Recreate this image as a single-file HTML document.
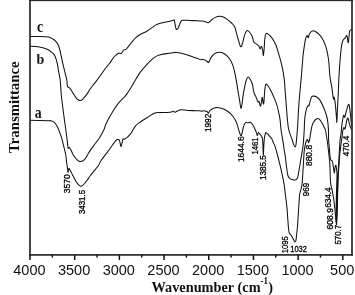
<!DOCTYPE html>
<html><head><meta charset="utf-8"><style>
html,body{margin:0;padding:0;background:#fff;}
body{width:355px;height:295px;overflow:hidden;}
svg{display:block;will-change:transform;}
</style></head><body>
<svg width="355" height="295" viewBox="0 0 355 295">
<rect x="0" y="0" width="355" height="295" fill="#fff"/>
<g fill="none" stroke="#111" stroke-width="1.05" stroke-linejoin="round">
<path d="M30.00,36.50 C31.67,36.52 36.95,36.50 40.00,36.60 C43.05,36.70 46.47,36.88 48.30,37.10 C50.13,37.32 50.15,37.55 51.00,37.90 C51.85,38.25 52.65,38.67 53.40,39.20 C54.15,39.73 54.83,40.40 55.50,41.10 C56.17,41.80 56.85,42.50 57.40,43.40 C57.95,44.30 58.37,45.32 58.80,46.50 C59.23,47.68 59.60,48.90 60.00,50.50 C60.40,52.10 60.67,53.65 61.20,56.10 C61.73,58.55 62.53,62.32 63.20,65.20 C63.87,68.08 64.60,70.93 65.20,73.40 C65.80,75.87 66.47,78.15 66.80,80.00 C67.13,81.85 67.05,83.37 67.20,84.50 C67.35,85.63 67.47,86.32 67.70,86.80 C67.93,87.28 68.30,87.22 68.60,87.40 C68.90,87.58 69.13,87.55 69.50,87.90 C69.87,88.25 70.13,88.50 70.80,89.50 C71.47,90.50 72.62,92.50 73.50,93.90 C74.38,95.30 75.35,96.93 76.10,97.90 C76.85,98.87 77.40,99.28 78.00,99.70 C78.60,100.12 79.20,100.30 79.70,100.40 C80.20,100.50 80.57,100.43 81.00,100.30 C81.43,100.17 81.50,100.37 82.30,99.60 C83.10,98.83 84.85,96.88 85.80,95.70 C86.75,94.52 87.30,93.58 88.00,92.50 C88.70,91.42 89.17,90.42 90.00,89.20 C90.83,87.98 91.98,86.50 93.00,85.20 C94.02,83.90 94.90,82.97 96.10,81.40 C97.30,79.83 98.98,77.50 100.20,75.80 C101.42,74.10 102.35,72.67 103.40,71.20 C104.45,69.73 105.47,68.32 106.50,67.00 C107.53,65.68 108.78,64.37 109.60,63.30 C110.42,62.23 110.75,61.55 111.40,60.60 C112.05,59.65 112.78,58.47 113.50,57.60 C114.22,56.73 114.87,56.12 115.70,55.40 C116.53,54.68 117.78,53.67 118.50,53.30 C119.22,52.93 119.53,53.15 120.00,53.20 C120.47,53.25 120.70,54.10 121.30,53.60 C121.90,53.10 122.82,50.92 123.60,50.20 C124.38,49.48 125.18,49.95 126.00,49.30 C126.82,48.65 127.58,47.42 128.50,46.30 C129.42,45.18 130.32,44.00 131.50,42.60 C132.68,41.20 134.07,39.30 135.60,37.90 C137.13,36.50 138.83,35.32 140.70,34.20 C142.57,33.08 144.77,32.38 146.80,31.20 C148.83,30.02 151.53,28.07 152.90,27.10 C154.27,26.13 153.63,26.08 155.00,25.40 C156.37,24.72 159.07,23.60 161.10,23.00 C163.13,22.40 165.17,22.25 167.20,21.80 C169.23,21.35 172.12,20.55 173.30,20.30 C174.48,20.05 173.97,19.45 174.30,20.30 C174.63,21.15 174.95,23.87 175.30,25.40 C175.65,26.93 175.88,29.15 176.40,29.50 C176.92,29.85 177.73,28.68 178.40,27.50 C179.07,26.32 179.72,23.60 180.40,22.40 C181.08,21.20 180.97,20.62 182.50,20.30 C184.03,19.98 187.07,20.42 189.60,20.50 C192.13,20.58 195.97,20.72 197.70,20.80 C199.43,20.88 198.93,20.92 200.00,21.00 C201.07,21.08 202.72,21.02 204.10,21.30 C205.48,21.58 207.10,22.90 208.30,22.70 C209.50,22.50 210.13,20.98 211.30,20.10 C212.47,19.22 213.97,18.03 215.30,17.40 C216.63,16.77 217.95,16.37 219.30,16.30 C220.65,16.23 222.03,16.43 223.40,17.00 C224.77,17.57 226.15,18.70 227.50,19.70 C228.85,20.70 230.32,21.88 231.50,23.00 C232.68,24.12 233.75,24.63 234.60,26.40 C235.45,28.17 235.93,31.22 236.60,33.60 C237.27,35.98 237.92,38.50 238.60,40.70 C239.28,42.90 240.02,46.47 240.70,46.80 C241.38,47.13 242.03,44.73 242.70,42.70 C243.37,40.67 243.95,36.63 244.70,34.60 C245.45,32.57 246.35,30.85 247.20,30.50 C248.05,30.15 249.00,31.58 249.80,32.50 C250.60,33.42 251.42,34.67 252.00,36.00 C252.58,37.33 252.95,39.42 253.30,40.50 C253.65,41.58 253.57,41.90 254.10,42.50 C254.63,43.10 255.70,43.48 256.50,44.10 C257.30,44.72 258.28,45.38 258.90,46.20 C259.52,47.02 259.78,49.00 260.20,49.00 C260.62,49.00 261.00,46.07 261.40,46.20 C261.80,46.33 262.27,48.25 262.60,49.80 C262.93,51.35 263.13,55.77 263.40,55.50 C263.67,55.23 264.00,50.63 264.20,48.20 C264.40,45.77 264.42,43.05 264.60,40.90 C264.78,38.75 264.98,36.57 265.30,35.30 C265.62,34.03 265.95,33.45 266.50,33.30 C267.05,33.15 267.80,33.77 268.60,34.40 C269.40,35.03 270.40,35.97 271.30,37.10 C272.20,38.23 273.22,39.83 274.00,41.20 C274.78,42.57 275.43,43.95 276.00,45.30 C276.57,46.65 277.05,48.22 277.40,49.30 C277.75,50.38 277.65,50.25 278.10,51.80 C278.55,53.35 279.48,56.35 280.10,58.60 C280.72,60.85 281.28,63.05 281.80,65.30 C282.32,67.55 282.80,69.83 283.20,72.10 C283.60,74.37 283.93,76.75 284.20,78.90 C284.47,81.05 284.65,83.02 284.80,85.00 C284.95,86.98 284.92,88.25 285.10,90.80 C285.28,93.35 285.65,97.13 285.90,100.30 C286.15,103.47 286.33,106.38 286.60,109.80 C286.87,113.22 287.17,117.60 287.50,120.80 C287.83,124.00 288.15,126.73 288.60,129.00 C289.05,131.27 289.63,132.70 290.20,134.40 C290.77,136.10 291.42,137.50 292.00,139.20 C292.58,140.90 293.18,143.32 293.70,144.60 C294.22,145.88 294.72,146.90 295.10,146.90 C295.48,146.90 295.68,146.68 296.00,144.60 C296.32,142.52 296.70,137.90 297.00,134.40 C297.30,130.90 297.57,127.33 297.80,123.60 C298.03,119.87 298.17,115.93 298.40,112.00 C298.63,108.07 298.92,103.67 299.20,100.00 C299.48,96.33 299.78,93.43 300.10,90.00 C300.42,86.57 300.77,83.20 301.10,79.40 C301.43,75.60 301.83,70.43 302.10,67.20 C302.37,63.97 302.53,62.03 302.70,60.00 C302.87,57.97 302.85,57.20 303.10,55.00 C303.35,52.80 303.78,49.53 304.20,46.80 C304.62,44.07 305.10,40.47 305.60,38.60 C306.10,36.73 306.77,35.77 307.20,35.60 C307.63,35.43 307.80,37.93 308.20,37.60 C308.60,37.27 308.92,34.72 309.60,33.60 C310.28,32.48 311.35,31.25 312.30,30.90 C313.25,30.55 314.12,30.88 315.30,31.50 C316.48,32.12 318.03,33.07 319.40,34.60 C320.77,36.13 322.32,38.33 323.50,40.70 C324.68,43.07 325.65,45.58 326.50,48.80 C327.35,52.02 328.03,55.42 328.60,60.00 C329.17,64.58 329.37,71.78 329.90,76.30 C330.43,80.82 331.32,83.98 331.80,87.10 C332.28,90.22 332.52,93.00 332.80,95.00 C333.08,97.00 333.28,98.77 333.50,99.10 C333.72,99.43 333.88,96.78 334.10,97.00 C334.32,97.22 334.57,98.93 334.80,100.40 C335.03,101.87 335.20,102.63 335.50,105.80 C335.80,108.97 336.38,116.68 336.60,119.40 C336.82,122.12 336.70,122.78 336.80,122.10 C336.90,121.42 337.03,118.68 337.20,115.30 C337.37,111.92 337.63,105.18 337.80,101.80 C337.97,98.42 338.00,99.30 338.20,95.00 C338.40,90.70 338.68,81.83 339.00,76.00 C339.32,70.17 339.70,64.87 340.10,60.00 C340.50,55.13 340.95,50.02 341.40,46.80 C341.85,43.58 342.13,42.23 342.80,40.70 C343.47,39.17 344.72,38.45 345.40,37.60 C346.08,36.75 346.42,34.75 346.90,35.60 C347.38,36.45 347.87,43.38 348.30,42.70 C348.73,42.02 349.07,33.60 349.50,31.50 C349.93,29.40 350.48,30.52 350.90,30.10 C351.32,29.68 351.82,29.18 352.00,29.00"/>
<path d="M30.00,46.20 C31.00,46.25 34.30,46.33 36.00,46.50 C37.70,46.67 38.78,46.92 40.20,47.20 C41.62,47.48 43.15,47.77 44.50,48.20 C45.85,48.63 47.30,49.28 48.30,49.80 C49.30,50.32 49.80,50.80 50.50,51.30 C51.20,51.80 51.90,52.25 52.50,52.80 C53.10,53.35 53.50,53.55 54.10,54.60 C54.70,55.65 55.52,57.33 56.10,59.10 C56.68,60.87 57.18,63.17 57.60,65.20 C58.02,67.23 58.28,69.50 58.60,71.30 C58.92,73.10 59.23,74.55 59.50,76.00 C59.77,77.45 59.90,76.83 60.20,80.00 C60.50,83.17 60.92,90.83 61.30,95.00 C61.68,99.17 62.07,101.50 62.50,105.00 C62.93,108.50 63.43,112.50 63.90,116.00 C64.37,119.50 64.88,123.00 65.30,126.00 C65.72,129.00 66.13,132.00 66.40,134.00 C66.67,136.00 66.72,136.52 66.90,138.00 C67.08,139.48 67.30,141.22 67.50,142.90 C67.70,144.58 67.80,147.33 68.10,148.10 C68.40,148.87 68.80,147.15 69.30,147.50 C69.80,147.85 70.43,148.95 71.10,150.20 C71.77,151.45 72.25,153.35 73.30,155.00 C74.35,156.65 76.22,159.00 77.40,160.10 C78.58,161.20 79.22,161.68 80.40,161.60 C81.58,161.52 82.97,161.30 84.50,159.60 C86.03,157.90 87.90,153.95 89.60,151.40 C91.30,148.85 93.07,146.53 94.70,144.30 C96.33,142.07 97.85,140.47 99.40,138.00 C100.95,135.53 102.88,131.88 104.00,129.50 C105.12,127.12 104.73,126.53 106.10,123.70 C107.47,120.87 110.17,115.88 112.20,112.50 C114.23,109.12 116.27,105.98 118.30,103.40 C120.33,100.82 122.87,98.73 124.40,97.00 C125.93,95.27 126.32,94.70 127.50,93.00 C128.68,91.30 130.32,88.75 131.50,86.80 C132.68,84.85 133.07,83.83 134.60,81.30 C136.13,78.77 138.67,74.38 140.70,71.60 C142.73,68.82 144.77,66.75 146.80,64.60 C148.83,62.45 151.20,60.15 152.90,58.70 C154.60,57.25 155.63,56.58 157.00,55.90 C158.37,55.22 159.40,55.00 161.10,54.60 C162.80,54.20 165.50,53.78 167.20,53.50 C168.90,53.22 169.77,53.08 171.30,52.90 C172.83,52.72 174.72,52.35 176.40,52.40 C178.08,52.45 179.55,52.77 181.40,53.20 C183.25,53.63 185.47,54.33 187.50,55.00 C189.53,55.67 191.90,56.62 193.60,57.20 C195.30,57.78 196.50,58.07 197.70,58.50 C198.90,58.93 199.95,59.67 200.80,59.80 C201.65,59.93 202.13,59.25 202.80,59.30 C203.47,59.35 204.12,59.78 204.80,60.10 C205.48,60.42 206.28,60.80 206.90,61.20 C207.52,61.60 207.95,62.82 208.50,62.50 C209.05,62.18 209.58,60.40 210.20,59.30 C210.82,58.20 211.35,56.92 212.20,55.90 C213.05,54.88 214.12,53.82 215.30,53.20 C216.48,52.58 217.95,52.20 219.30,52.20 C220.65,52.20 222.03,52.52 223.40,53.20 C224.77,53.88 226.32,55.12 227.50,56.30 C228.68,57.48 229.55,58.62 230.50,60.30 C231.45,61.98 232.42,64.02 233.20,66.40 C233.98,68.78 234.57,71.55 235.20,74.60 C235.83,77.65 236.43,81.32 237.00,84.70 C237.57,88.08 238.17,92.32 238.60,94.90 C239.03,97.48 239.22,97.97 239.60,100.20 C239.98,102.43 240.45,107.97 240.90,108.30 C241.35,108.63 241.90,104.57 242.30,102.20 C242.70,99.83 242.90,96.67 243.30,94.10 C243.70,91.53 244.18,89.20 244.70,86.80 C245.22,84.40 245.78,81.33 246.40,79.70 C247.02,78.07 247.73,77.00 248.40,77.00 C249.07,77.00 249.73,78.53 250.40,79.70 C251.07,80.87 251.92,82.33 252.40,84.00 C252.88,85.67 252.98,88.12 253.30,89.70 C253.62,91.28 253.90,92.40 254.30,93.50 C254.70,94.60 255.23,95.20 255.70,96.30 C256.17,97.40 256.70,99.15 257.10,100.10 C257.50,101.05 257.78,101.77 258.10,102.00 C258.42,102.23 258.62,100.78 259.00,101.50 C259.38,102.22 260.00,106.22 260.40,106.30 C260.80,106.38 261.08,103.50 261.40,102.00 C261.72,100.50 261.98,96.98 262.30,97.30 C262.62,97.62 263.02,103.27 263.30,103.90 C263.58,104.53 263.77,103.32 264.00,101.10 C264.23,98.88 264.43,93.30 264.70,90.60 C264.97,87.90 265.28,85.98 265.60,84.90 C265.92,83.82 266.10,83.78 266.60,84.10 C267.10,84.42 267.82,85.57 268.60,86.80 C269.38,88.03 270.40,89.70 271.30,91.50 C272.20,93.30 273.10,95.45 274.00,97.60 C274.90,99.75 275.92,101.92 276.70,104.40 C277.48,106.88 278.13,109.90 278.70,112.50 C279.27,115.10 279.70,117.03 280.10,120.00 C280.50,122.97 280.63,126.77 281.10,130.30 C281.57,133.83 282.38,137.92 282.90,141.20 C283.42,144.48 283.82,147.57 284.20,150.00 C284.58,152.43 284.82,153.02 285.20,155.80 C285.58,158.58 286.05,163.42 286.50,166.70 C286.95,169.98 287.33,173.52 287.90,175.50 C288.47,177.48 289.12,177.92 289.90,178.60 C290.68,179.28 291.70,179.37 292.60,179.60 C293.50,179.83 294.50,180.23 295.30,180.00 C296.10,179.77 296.83,179.52 297.40,178.20 C297.97,176.88 298.25,174.47 298.70,172.10 C299.15,169.73 299.65,166.72 300.10,164.00 C300.55,161.28 300.95,158.52 301.40,155.80 C301.85,153.08 302.45,150.13 302.80,147.70 C303.15,145.27 303.27,144.10 303.50,141.20 C303.73,138.30 303.98,134.17 304.20,130.30 C304.42,126.43 304.42,121.57 304.80,118.00 C305.18,114.43 305.93,110.98 306.50,108.90 C307.07,106.82 307.78,106.02 308.20,105.50 C308.62,104.98 308.72,106.37 309.00,105.80 C309.28,105.23 309.47,103.57 309.90,102.10 C310.33,100.63 310.98,98.00 311.60,97.00 C312.22,96.00 312.75,96.10 313.60,96.10 C314.45,96.10 315.62,96.28 316.70,97.00 C317.78,97.72 318.97,98.70 320.10,100.40 C321.23,102.10 322.52,104.93 323.50,107.20 C324.48,109.47 325.35,111.97 326.00,114.00 C326.65,116.03 327.00,116.92 327.40,119.40 C327.80,121.88 328.20,125.47 328.40,128.90 C328.60,132.33 328.45,136.88 328.60,140.00 C328.75,143.12 329.05,144.80 329.30,147.60 C329.55,150.40 329.83,154.75 330.10,156.80 C330.37,158.85 330.52,159.13 330.90,159.90 C331.28,160.67 332.02,160.38 332.40,161.40 C332.78,162.42 332.95,164.47 333.20,166.00 C333.45,167.53 333.70,169.47 333.90,170.60 C334.10,171.73 334.22,173.32 334.40,172.80 C334.58,172.28 334.75,168.77 335.00,167.50 C335.25,166.23 335.65,164.95 335.90,165.20 C336.15,165.45 336.32,167.53 336.50,169.00 C336.68,170.47 336.97,171.33 337.00,174.00 C337.03,176.67 336.82,180.67 336.70,185.00 C336.58,189.33 336.40,195.00 336.30,200.00 C336.20,205.00 336.10,211.33 336.10,215.00 C336.10,218.67 336.18,222.83 336.30,222.00 C336.42,221.17 336.62,214.50 336.80,210.00 C336.98,205.50 337.23,199.17 337.40,195.00 C337.57,190.83 337.68,188.32 337.80,185.00 C337.92,181.68 337.98,178.27 338.10,175.10 C338.22,171.93 338.35,169.05 338.50,166.00 C338.65,162.95 338.82,159.87 339.00,156.80 C339.18,153.73 339.43,150.40 339.60,147.60 C339.77,144.80 339.78,142.10 340.00,140.00 C340.22,137.90 340.63,137.08 340.90,135.00 C341.17,132.92 341.33,129.88 341.60,127.50 C341.87,125.12 342.17,122.73 342.50,120.70 C342.83,118.67 343.23,115.85 343.60,115.30 C343.97,114.75 344.37,117.62 344.70,117.40 C345.03,117.18 345.22,115.47 345.60,114.00 C345.98,112.53 346.53,110.18 347.00,108.60 C347.47,107.02 348.02,104.97 348.40,104.50 C348.78,104.03 349.02,104.67 349.30,105.80 C349.58,106.93 349.82,108.93 350.10,111.30 C350.38,113.67 350.72,117.55 351.00,120.00 C351.28,122.45 351.67,125.00 351.80,126.00"/>
<path d="M30.00,120.30 C33.00,120.37 44.50,120.63 48.00,120.70 C51.50,120.77 49.98,120.47 51.00,120.70 C52.02,120.93 53.08,121.18 54.10,122.10 C55.12,123.02 56.25,124.72 57.10,126.20 C57.95,127.68 58.58,129.45 59.20,131.00 C59.82,132.55 60.33,134.13 60.80,135.50 C61.27,136.87 61.60,137.77 62.00,139.20 C62.40,140.63 62.80,142.47 63.20,144.10 C63.60,145.73 63.98,147.27 64.40,149.00 C64.82,150.73 65.40,152.92 65.70,154.50 C66.00,156.08 66.03,157.08 66.20,158.50 C66.37,159.92 66.50,161.52 66.70,163.00 C66.90,164.48 67.18,165.85 67.40,167.40 C67.62,168.95 67.82,171.87 68.00,172.30 C68.18,172.73 68.32,170.63 68.50,170.00 C68.68,169.37 68.73,168.30 69.10,168.50 C69.47,168.70 70.17,170.20 70.70,171.20 C71.23,172.20 71.80,173.50 72.30,174.50 C72.80,175.50 72.93,175.82 73.70,177.20 C74.47,178.58 75.93,181.38 76.90,182.80 C77.87,184.22 78.78,185.13 79.50,185.70 C80.22,186.27 80.50,186.40 81.20,186.20 C81.90,186.00 82.72,185.48 83.70,184.50 C84.68,183.52 85.95,181.85 87.10,180.30 C88.25,178.75 89.33,176.90 90.60,175.20 C91.87,173.50 93.35,171.80 94.70,170.10 C96.05,168.40 97.63,166.60 98.70,165.00 C99.77,163.40 99.68,162.60 101.10,160.50 C102.52,158.40 105.33,154.93 107.20,152.40 C109.07,149.87 110.95,147.17 112.30,145.30 C113.65,143.43 114.45,142.15 115.30,141.20 C116.15,140.25 116.72,139.77 117.40,139.60 C118.08,139.43 118.83,139.08 119.40,140.20 C119.97,141.32 120.40,145.63 120.80,146.30 C121.20,146.97 121.45,145.38 121.80,144.20 C122.15,143.02 122.45,140.03 122.90,139.20 C123.35,138.37 123.73,139.55 124.50,139.20 C125.27,138.85 126.50,137.98 127.50,137.10 C128.50,136.22 129.15,135.78 130.50,133.90 C131.85,132.02 133.90,127.83 135.60,125.80 C137.30,123.77 138.50,123.23 140.70,121.70 C142.90,120.17 146.43,118.07 148.80,116.60 C151.17,115.13 152.85,113.57 154.90,112.90 C156.95,112.23 159.05,112.68 161.10,112.60 C163.15,112.52 165.47,112.50 167.20,112.40 C168.93,112.30 170.45,112.18 171.50,112.00 C172.55,111.82 172.87,111.25 173.50,111.30 C174.13,111.35 174.65,112.37 175.30,112.30 C175.95,112.23 176.38,111.33 177.40,110.90 C178.42,110.47 179.72,109.78 181.40,109.70 C183.08,109.62 185.12,110.23 187.50,110.40 C189.88,110.57 193.70,110.63 195.70,110.70 C197.70,110.77 198.53,110.70 199.50,110.80 C200.47,110.90 200.78,111.30 201.50,111.30 C202.22,111.30 203.03,110.80 203.80,110.80 C204.57,110.80 205.48,111.10 206.10,111.30 C206.72,111.50 207.12,111.67 207.50,112.00 C207.88,112.33 208.07,113.42 208.40,113.30 C208.73,113.18 209.10,111.88 209.50,111.30 C209.90,110.72 210.12,110.30 210.80,109.80 C211.48,109.30 212.58,108.68 213.60,108.30 C214.62,107.92 215.78,107.57 216.90,107.50 C218.02,107.43 219.17,107.63 220.30,107.90 C221.43,108.17 222.57,108.58 223.70,109.10 C224.83,109.62 225.97,110.23 227.10,111.00 C228.23,111.77 229.48,112.75 230.50,113.70 C231.52,114.65 232.40,115.63 233.20,116.70 C234.00,117.77 234.62,118.75 235.30,120.10 C235.98,121.45 236.75,123.22 237.30,124.80 C237.85,126.38 238.10,127.97 238.60,129.60 C239.10,131.23 239.88,133.57 240.30,134.60 C240.72,135.63 240.82,135.98 241.10,135.80 C241.38,135.62 241.63,134.88 242.00,133.50 C242.37,132.12 242.88,129.08 243.30,127.50 C243.72,125.92 244.03,124.85 244.50,124.00 C244.97,123.15 245.52,122.58 246.10,122.40 C246.68,122.22 247.35,122.92 248.00,122.90 C248.65,122.88 249.45,122.32 250.00,122.30 C250.55,122.28 250.82,122.33 251.30,122.80 C251.78,123.27 252.40,124.27 252.90,125.10 C253.40,125.93 253.83,126.85 254.30,127.80 C254.77,128.75 255.30,129.83 255.70,130.80 C256.10,131.77 256.42,132.82 256.70,133.60 C256.98,134.38 257.12,135.68 257.40,135.50 C257.68,135.32 257.93,132.63 258.40,132.50 C258.87,132.37 259.65,134.05 260.20,134.70 C260.75,135.35 261.32,135.68 261.70,136.40 C262.08,137.12 262.30,137.57 262.50,139.00 C262.70,140.43 262.77,142.33 262.90,145.00 C263.03,147.67 263.17,154.50 263.30,155.00 C263.43,155.50 263.53,150.67 263.70,148.00 C263.87,145.33 264.05,141.32 264.30,139.00 C264.55,136.68 264.95,135.17 265.20,134.10 C265.45,133.03 265.53,132.72 265.80,132.60 C266.07,132.48 266.38,133.07 266.80,133.40 C267.22,133.73 267.77,134.05 268.30,134.60 C268.83,135.15 269.42,136.00 270.00,136.70 C270.58,137.40 271.33,138.03 271.80,138.80 C272.27,139.57 272.27,140.03 272.80,141.30 C273.33,142.57 274.18,143.98 275.00,146.40 C275.82,148.82 276.80,152.42 277.70,155.80 C278.60,159.18 279.60,163.30 280.40,166.70 C281.20,170.10 281.87,173.15 282.50,176.20 C283.13,179.25 283.73,182.03 284.20,185.00 C284.67,187.97 284.85,190.32 285.30,194.00 C285.75,197.68 286.45,202.43 286.90,207.10 C287.35,211.77 287.72,218.35 288.00,222.00 C288.28,225.65 288.37,227.13 288.60,229.00 C288.83,230.87 288.97,232.15 289.40,233.20 C289.83,234.25 290.58,234.37 291.20,235.30 C291.82,236.23 292.58,237.82 293.10,238.80 C293.62,239.78 293.97,240.70 294.30,241.20 C294.63,241.70 294.83,241.92 295.10,241.80 C295.37,241.68 295.62,241.97 295.90,240.50 C296.18,239.03 296.52,235.58 296.80,233.00 C297.08,230.42 297.35,228.17 297.60,225.00 C297.85,221.83 298.10,217.17 298.30,214.00 C298.50,210.83 298.58,209.17 298.80,206.00 C299.02,202.83 299.27,197.67 299.60,195.00 C299.93,192.33 300.38,191.87 300.80,190.00 C301.22,188.13 301.70,187.55 302.10,183.80 C302.50,180.05 302.85,172.92 303.20,167.50 C303.55,162.08 303.80,155.37 304.20,151.30 C304.60,147.23 305.20,144.90 305.60,143.10 C306.00,141.30 306.28,141.10 306.60,140.50 C306.92,139.90 307.20,139.17 307.50,139.50 C307.80,139.83 308.08,142.33 308.40,142.50 C308.72,142.67 309.05,141.92 309.40,140.50 C309.75,139.08 310.13,136.15 310.50,134.00 C310.87,131.85 311.13,129.52 311.60,127.60 C312.07,125.68 312.45,123.98 313.30,122.50 C314.15,121.02 315.72,119.27 316.70,118.70 C317.68,118.13 318.35,118.47 319.20,119.10 C320.05,119.73 320.95,121.08 321.80,122.50 C322.65,123.92 323.70,126.35 324.30,127.60 C324.90,128.85 324.93,127.93 325.40,130.00 C325.87,132.07 326.62,136.80 327.10,140.00 C327.58,143.20 327.93,146.15 328.30,149.20 C328.67,152.25 329.05,156.00 329.30,158.30 C329.55,160.60 329.67,160.95 329.80,163.00 C329.93,165.05 330.00,167.82 330.10,170.60 C330.20,173.38 330.27,177.30 330.40,179.70 C330.53,182.10 330.55,182.95 330.90,185.00 C331.25,187.05 332.02,189.50 332.50,192.00 C332.98,194.50 333.38,197.00 333.80,200.00 C334.22,203.00 334.63,206.67 335.00,210.00 C335.37,213.33 335.75,217.58 336.00,220.00 C336.25,222.42 336.32,225.17 336.50,224.50 C336.68,223.83 336.93,220.08 337.10,216.00 C337.27,211.92 337.38,205.17 337.50,200.00 C337.62,194.83 337.67,189.17 337.80,185.00 C337.93,180.83 338.10,178.33 338.30,175.00 C338.50,171.67 338.80,167.83 339.00,165.00 C339.20,162.17 339.33,160.13 339.50,158.00 C339.67,155.87 339.78,154.18 340.00,152.20 C340.22,150.22 340.53,148.13 340.80,146.10 C341.07,144.07 341.35,141.85 341.60,140.00 C341.85,138.15 342.08,136.63 342.30,135.00 C342.52,133.37 342.63,131.45 342.90,130.20 C343.17,128.95 343.55,127.72 343.90,127.50 C344.25,127.28 344.63,129.47 345.00,128.90 C345.37,128.33 345.77,125.68 346.10,124.10 C346.43,122.52 346.68,120.42 347.00,119.40 C347.32,118.38 347.67,117.55 348.00,118.00 C348.33,118.45 348.65,120.73 349.00,122.10 C349.35,123.47 349.63,124.88 350.10,126.20 C350.57,127.52 351.52,129.37 351.80,130.00"/>
</g>
<g stroke="#111" stroke-width="1" fill="none">
</g>
<g fill="#2a2a2a">
<rect x="29.1" y="0" width="324" height="1.15"/>
<rect x="29.15" y="0" width="1.7" height="255.8"/>
<rect x="351.15" y="0" width="1.7" height="255.8"/>
<rect x="29.1" y="254.05" width="323.8" height="1.7"/>
</g>
<g stroke="#111" stroke-width="1.5"><line x1="30.00" y1="255" x2="30.00" y2="260" /><line x1="74.69" y1="255" x2="74.69" y2="260" /><line x1="119.37" y1="255" x2="119.37" y2="260" /><line x1="164.06" y1="255" x2="164.06" y2="260" /><line x1="208.74" y1="255" x2="208.74" y2="260" /><line x1="253.43" y1="255" x2="253.43" y2="260" /><line x1="298.11" y1="255" x2="298.11" y2="260" /><line x1="342.80" y1="255" x2="342.80" y2="260" /><line x1="52.34" y1="255" x2="52.34" y2="257.5" /><line x1="97.03" y1="255" x2="97.03" y2="257.5" /><line x1="141.71" y1="255" x2="141.71" y2="257.5" /><line x1="186.40" y1="255" x2="186.40" y2="257.5" /><line x1="231.08" y1="255" x2="231.08" y2="257.5" /><line x1="275.77" y1="255" x2="275.77" y2="257.5" /><line x1="320.45" y1="255" x2="320.45" y2="257.5" /></g>
<g font-family="'Liberation Sans', sans-serif" font-size="14.5" fill="#111"><text transform="translate(29.40,274.5) scale(1,1.04)" text-anchor="middle">4000</text><text transform="translate(74.09,274.5) scale(1,1.04)" text-anchor="middle">3500</text><text transform="translate(118.77,274.5) scale(1,1.04)" text-anchor="middle">3000</text><text transform="translate(163.46,274.5) scale(1,1.04)" text-anchor="middle">2500</text><text transform="translate(208.14,274.5) scale(1,1.04)" text-anchor="middle">2000</text><text transform="translate(252.83,274.5) scale(1,1.04)" text-anchor="middle">1500</text><text transform="translate(297.51,274.5) scale(1,1.04)" text-anchor="middle">1000</text><text transform="translate(342.19,274.5) scale(1,1.04)" text-anchor="middle">500</text></g>
<g font-family="'Liberation Sans', sans-serif" font-size="8.6" fill="#000" stroke="#000" stroke-width="0.3"><text transform="translate(70.3,193.2) rotate(-90) scale(0.99,1)">3570</text><text transform="translate(85.2,214.1) rotate(-90) scale(0.92,1)">3431.5</text><text transform="translate(210.9,132.1) rotate(-90) scale(0.965,1)">1992</text><text transform="translate(243.5,162.1) rotate(-90) scale(0.98,1)">1644.6</text><text transform="translate(258.2,154.4) rotate(-90) scale(0.88,1)">1461</text><text transform="translate(266.3,180.0) rotate(-90) scale(0.94,1)">1385.5</text><text transform="translate(311.9,166) rotate(-90) scale(0.98,1)">880.8</text><text transform="translate(309.2,196.3) rotate(-90) scale(0.94,1)">969</text><text transform="translate(288.3,253.3) rotate(-90) scale(0.89,1)">1095</text><text transform="translate(331.1,207.6) rotate(-90) scale(0.94,1)">634.4</text><text transform="translate(333.4,229.5) rotate(-90) scale(1.0,1)">608.9</text><text transform="translate(340.5,244.6) rotate(-90) scale(0.92,1)">570.7</text><text transform="translate(349.1,156.3) rotate(-90) scale(0.96,1)">470.4</text>
<text transform="translate(290.3,251.5) scale(0.87,1.02)">1032</text>
</g>
<g font-family="'Liberation Serif', serif" font-weight="bold" fill="#111">
<text transform="translate(37,31.8) scale(0.92,1.14)" font-size="15">c</text>
<text transform="translate(36.6,64.2) scale(0.93,1.035)" font-size="15">b</text>
<text transform="translate(34.8,118.3) scale(0.92,1.14)" font-size="15">a</text>
<text transform="translate(151.5,291.6) scale(0.955,1)" font-size="15">Wavenumber (cm<tspan font-size="9.5" dy="-7.6">-1</tspan><tspan dy="7.6">)</tspan></text>
<text transform="translate(19.3,153) rotate(-90) scale(0.985,1)" font-size="15">Transmittance</text>
</g>
</svg>
</body></html>
